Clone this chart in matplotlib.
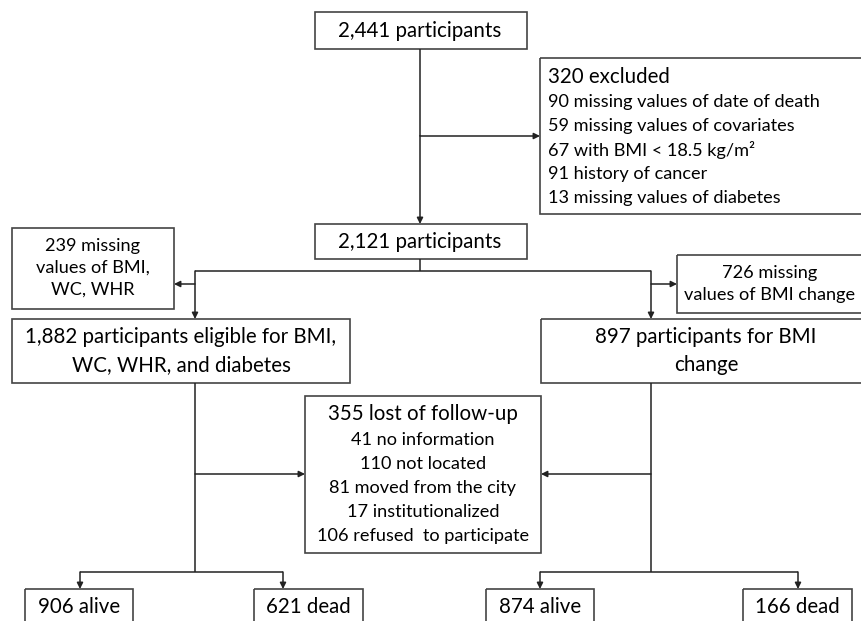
import matplotlib.pyplot as plt
from matplotlib.patches import Rectangle

plt.rcParams['font.family'] = ['Lato', 'DejaVu Sans']

# box texts
start_label = '2,441 participants'
excluded_title = '320 excluded'
excluded_lines = ['90 missing values of date of death',
                  '59 missing values of covariates',
                  '67 with BMI < 18.5 kg/m\u00b2',
                  '91 history of cancer',
                  '13 missing values of diabetes']
kept_label = '2,121 participants'
miss_left_label = '239 missing\nvalues of BMI,\nWC, WHR'
miss_right_label = '726 missing\nvalues of BMI change'
left_label = '1,882 participants eligible for BMI,\nWC, WHR, and diabetes'
right_label = '897 participants for BMI\nchange'
lost_title = '355 lost of follow-up'
lost_lines = ['41 no information', '110 not located', '81 moved from the city',
              '17 institutionalized', '106 refused  to participate']
outcome_labels = ['906 alive', '621 dead', '874 alive', '166 dead']

LC = '#222222'
EC = '#444444'
FS = 14.8
FS2 = 13.1

fig = plt.figure(figsize=(8.62, 6.21), dpi=100)
ax = fig.add_axes([0, 0, 1, 1])
ax.set_xlim(0, 862)
ax.set_ylim(621, 0)
ax.axis('off')


def box(x0, y0, x1, y1):
    ax.add_patch(Rectangle((x0, y0), x1 - x0, y1 - y0, fill=False,
                           edgecolor=EC, lw=1.2, clip_on=False))


def line(xs, ys):
    ax.plot(xs, ys, color=LC, lw=1.1, solid_capstyle='butt')


def arrow(x0, y0, x1, y1):
    ax.annotate('', xy=(x1, y1), xytext=(x0, y0),
                arrowprops=dict(arrowstyle='-|>', color=LC, lw=1.1,
                                mutation_scale=9, shrinkA=0, shrinkB=0))


# top box
box(315, 12, 527, 49)
ax.text(420, 31, start_label, ha='center', va='center', fontsize=FS)

# exclusion box
box(540, 58, 870, 214)
ax.text(548, 77, excluded_title, ha='left', va='center', fontsize=FS)
for i, t in enumerate(excluded_lines):
    ax.text(548, 102 + i * 24, t, ha='left', va='center', fontsize=FS2)

line([420, 420], [49, 136])
arrow(420, 136, 420, 224)
arrow(420, 136, 540, 136)

# second box
box(315, 224, 527, 259)
ax.text(420, 242, kept_label, ha='center', va='center', fontsize=FS)
line([420, 420], [259, 271])
line([195, 651], [271, 271])

# side exclusions
box(12, 228, 174, 309)
ax.text(93, 268, miss_left_label, ha='center', va='center', fontsize=FS2,
        linespacing=1.45)
box(677, 255, 870, 313)
ax.text(770, 284, miss_right_label, ha='center', va='center', fontsize=FS2,
        linespacing=1.45)
arrow(195, 284, 174, 284)
arrow(651, 284, 677, 284)
arrow(195, 271, 195, 319)
arrow(651, 271, 651, 319)

# eligible boxes
box(12, 319, 350, 383)
ax.text(181, 351, left_label, ha='center', va='center', fontsize=FS,
        linespacing=1.45)
box(541, 319, 870, 383)
ax.text(706, 351, right_label, ha='center', va='center', fontsize=FS,
        linespacing=1.45)

# lost to follow-up
box(305, 396, 541, 553)
ax.text(423, 414, lost_title, ha='center', va='center', fontsize=FS)
for i, t in enumerate(lost_lines):
    ax.text(423, 440 + i * 24, t, ha='center', va='center', fontsize=FS2)

line([195, 195], [383, 572])
line([651, 651], [383, 572])
arrow(195, 474, 305, 474)
arrow(651, 474, 541, 474)

# bottom branches
line([80, 283], [572, 572])
line([540, 798], [572, 572])
xs_out = [80, 283, 540, 798]
boxes_out = [(25, 133), (254, 363), (486, 594), (743, 852)]
for xc, (b0, b1), lab in zip(xs_out, boxes_out, outcome_labels):
    arrow(xc, 572, xc, 589)
    box(b0, 589, b1, 630)
    ax.text((b0 + b1) / 2, 607, lab, ha='center', va='center', fontsize=FS)

fig.savefig('out.png', dpi=100)
